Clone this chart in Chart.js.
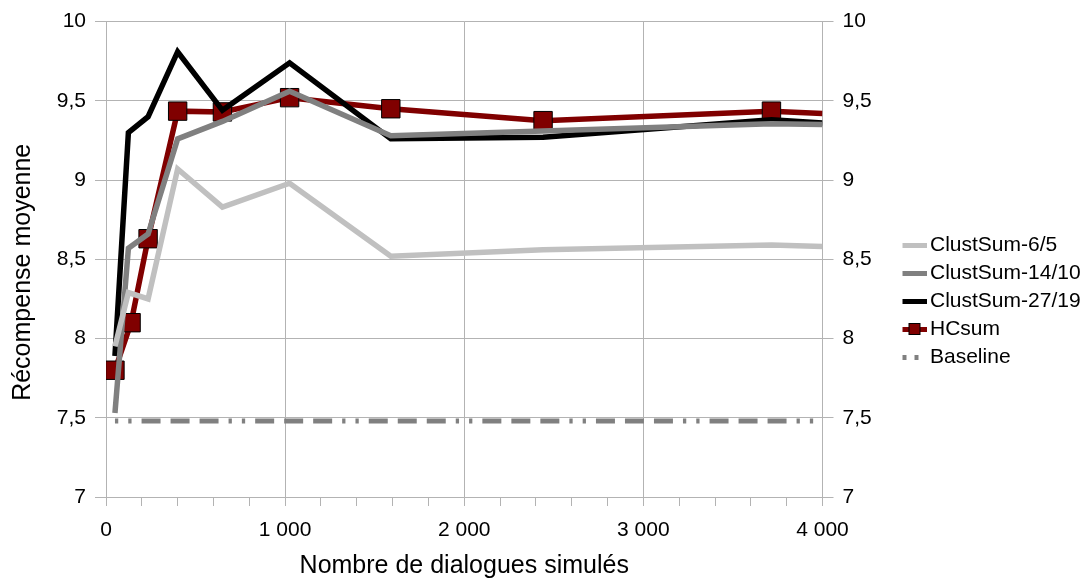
<!DOCTYPE html>
<html>
<head>
<meta charset="utf-8">
<script src="https://cdn.jsdelivr.net/npm/chart.js@4/dist/chart.umd.min.js"></script>
<style>
  html, body { margin: 0; padding: 0; background: #fff; }
  #wrap { width: 1087px; height: 581px; position: relative; }
</style>
</head>
<body>
<div id="wrap"><canvas id="chart"></canvas></div>
<script>
// valeurs
const dialogues = [50, 125, 235, 400, 650, 1025, 1590, 2440, 3715, 4000];
const dialoguesHC = [50, 140, 235, 400, 650, 1025, 1590, 2440, 3715, 4000];
const clust6 = [7.95, 8.29, 8.25, 9.07, 8.83, 8.98, 8.52, 8.56, 8.59, 8.58];
const clust14 = [7.53, 8.57, 8.66, 9.26, 9.37, 9.56, 9.28, 9.31, 9.355, 9.35];
const clust27 = [7.89, 9.30, 9.40, 9.81, 9.44, 9.74, 9.26, 9.27, 9.38, 9.36];
const hcsum = [7.80, 8.10, 8.63, 9.435, 9.43, 9.52, 9.45, 9.375, 9.435, 9.42];
const baselineX = [50, 4000];
const baseline = [7.48, 7.48];
const yTicks = [7, 7.5, 8, 8.5, 9, 9.5, 10];
const xMajor = [0, 1000, 2000, 3000, 4000];

const labels = ['ClustSum-6/5', 'ClustSum-14/10', 'ClustSum-27/19', 'HCsum', 'Baseline'];
const yTitle = 'Récompense moyenne';
const xTitle = 'Nombre de dialogues simulés';
const grid = '#b3b3b3';
const dashBaseline = [3.3, 10, 3.3, 10, 19, 10, 19, 10, 19, 10];
const fontFamily = '"Liberation Sans", Arial, sans-serif';

function pts(xs, ys) {
  return xs.map((x, i) => ({ x: x, y: ys[i] }));
}

// petites images pour la légende (le motif est décalé à droite dans l'image)
function swatch(kind, color) {
  const c = document.createElement('canvas');
  c.width = 30; c.height = 16;
  const g = c.getContext('2d');
  g.fillStyle = color;
  if (kind === 'line') {
    g.fillRect(6, 6, 24, 5);
  } else if (kind === 'marker') {
    g.fillRect(6, 6, 24, 5);
    g.fillRect(12, 2, 12, 12);
    g.strokeStyle = '#000';
    g.lineWidth = 1;
    g.strokeRect(12.5, 2.5, 11, 11);
  } else {
    g.fillRect(6, 6, 4, 5);
    g.fillRect(18, 6, 4, 5);
  }
  return c;
}
const swatches = [
  swatch('line', '#c0c0c0'),
  swatch('line', '#808080'),
  swatch('line', '#000000'),
  swatch('marker', '#800000'),
  swatch('dots', '#808080')
];

function fmtY(v) {
  return yTicks.includes(v) ? String(v).replace('.', ',') : '';
}
function fmtX(v) {
  if (!xMajor.includes(v)) return '';
  return v === 0 ? '0' : (v / 1000) + ' 000';
}

// titre vertical de l'axe Y (un peu sous le centre, comme l'original)
const yTitlePlugin = {
  id: 'yTitle',
  afterDraw(chart) {
    const { ctx, chartArea } = chart;
    ctx.save();
    ctx.translate(23, (chartArea.top + chartArea.bottom) / 2 + 13);
    ctx.rotate(-Math.PI / 2);
    ctx.font = '25px ' + fontFamily;
    ctx.fillStyle = '#000';
    ctx.textAlign = 'center';
    ctx.textBaseline = 'middle';
    ctx.fillText(yTitle, 0, 0);
    ctx.restore();
  }
};

Chart.defaults.font.family = fontFamily;
Chart.defaults.font.size = 21;
Chart.defaults.color = '#000';

new Chart(document.getElementById('chart'), {
  type: 'line',
  data: {
    datasets: [
      { label: labels[0], data: pts(dialogues, clust6), borderColor: '#c0c0c0', borderWidth: 5.5, pointRadius: 0 },
      { label: labels[1], data: pts(dialogues, clust14), borderColor: '#808080', borderWidth: 5.5, pointRadius: 0 },
      { label: labels[2], data: pts(dialogues, clust27), borderColor: '#000000', borderWidth: 5.5, pointRadius: 0 },
      {
        label: labels[3], data: pts(dialoguesHC, hcsum), borderColor: '#800000', borderWidth: 5.5,
        pointStyle: 'rect', pointRadius: hcsum.map((v, i) => i === hcsum.length - 1 ? 0 : 13),
        pointBackgroundColor: '#800000', pointBorderColor: '#000', pointBorderWidth: 1
      },
      {
        label: labels[4], data: pts(baselineX, baseline), borderColor: '#808080', borderWidth: 5,
        borderDash: dashBaseline, borderCapStyle: 'butt', pointRadius: 0
      }
    ]
  },
  options: {
    responsive: true,
    maintainAspectRatio: false,
    animation: false,
    layout: { padding: { top: 9, right: 4, bottom: 0, left: 0 } },
    plugins: {
      tooltip: { enabled: false },
      legend: {
        position: 'right',
        maxWidth: 186.5,
        title: { display: true, text: '', padding: 0, font: { size: 10 } },
        labels: {
          usePointStyle: true,
          pointStyleWidth: 16,
          padding: 7,
          generateLabels: (chart) => chart.data.datasets.map((ds, i) => ({
            text: ds.label,
            pointStyle: swatches[i],
            fillStyle: 'transparent',
            strokeStyle: 'transparent',
            lineWidth: 0,
            hidden: false,
            datasetIndex: i,
            fontColor: '#000'
          }))
        }
      }
    },
    scales: {
      x: {
        type: 'linear',
        min: 0, max: 4000,
        ticks: { stepSize: 200, autoSkip: false, maxRotation: 0, padding: 12, callback: fmtX },
        grid: {
          color: (ctx) => ctx.tick && xMajor.includes(ctx.tick.value) ? grid : 'rgba(0,0,0,0)',
          tickColor: grid,
          tickLength: 9
        },
        border: { color: grid },
        title: { display: true, text: xTitle, font: { size: 25 }, padding: { top: 0, bottom: 0 } },
        afterFit: (s) => { s.height = 84; }
      },
      y: {
        position: 'left',
        min: 7, max: 10,
        ticks: { stepSize: 0.5, padding: 9, callback: fmtY },
        grid: { color: grid, tickLength: 11 },
        border: { color: grid },
        afterFit: (s) => { s.width = 106; }
      },
      y2: {
        position: 'right',
        min: 7, max: 10,
        ticks: { stepSize: 0.5, padding: 9, callback: fmtY },
        grid: { drawOnChartArea: false, color: grid, tickLength: 11 },
        border: { color: grid },
        afterFit: (s) => { s.width = 74; }
      }
    }
  },
  plugins: [yTitlePlugin]
});
</script>
</body>
</html>
